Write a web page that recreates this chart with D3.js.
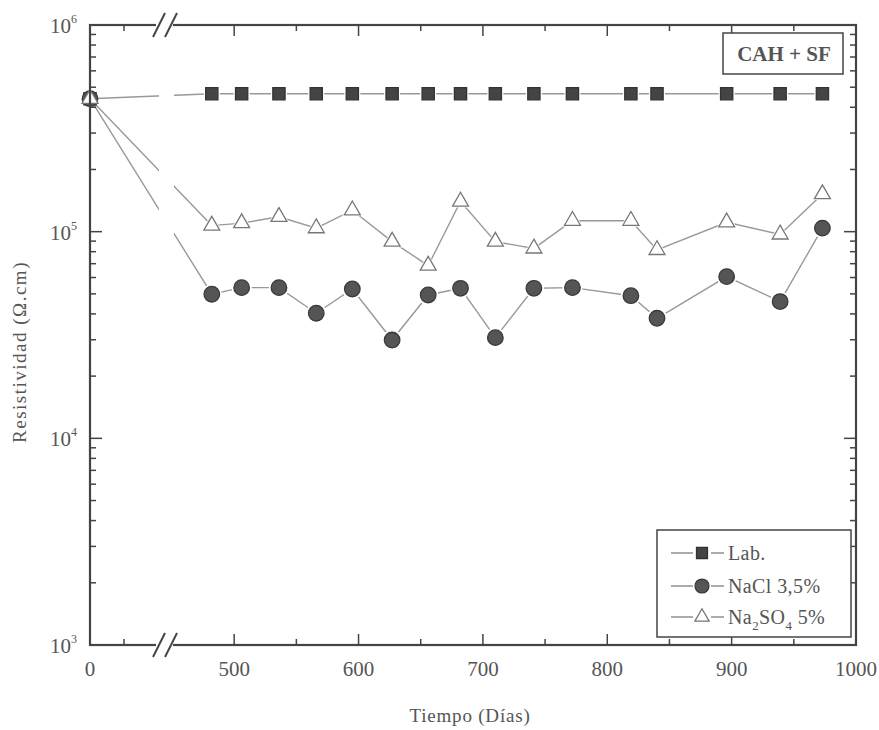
<!DOCTYPE html>
<meta charset="utf-8">
<head>
<style>
body { margin: 0; background: #fff; }
text { font-family: 'Liberation Serif', 'DejaVu Serif', serif; fill: #555; }
</style>
<script src="https://d3js.org/d3.v7.min.js"></script>
</head>
<body>
<svg id="chart"></svg>
<script>

// days and resistivity values (Ohm.cm)
var dias   = [0, 482, 506, 536, 566, 595, 627, 656, 682, 710, 741, 772, 819, 840, 896, 939, 973]
var lab    = [4.4e5, 4.65e5, 4.65e5, 4.65e5, 4.65e5, 4.65e5, 4.65e5, 4.65e5, 4.65e5, 4.65e5, 4.65e5, 4.65e5, 4.65e5, 4.65e5, 4.65e5, 4.65e5, 4.65e5]
var nacl   = [4.4e5, 4.98e4, 5.36e4, 5.36e4, 4.03e4, 5.28e4, 2.99e4, 4.94e4, 5.32e4, 3.07e4, 5.32e4, 5.36e4, 4.90e4, 3.81e4, 6.06e4, 4.59e4, 1.04e5]
var na2so4 = [4.4e5, 1.07e5, 1.10e5, 1.18e5, 1.04e5, 1.27e5, 8.95e4, 6.85e4, 1.40e5, 8.95e4, 8.3e4, 1.13e5, 1.13e5, 8.16e4, 1.11e5, 9.7e4, 1.52e5]

var xMajor = [0, 500, 600, 700, 800, 900, 1000]
var xMinor = [25, 550, 650, 750, 850, 950]
var yMajor = [1e3, 1e4, 1e5, 1e6]
var yExp   = ['3', '4', '5', '6']

var width = 879, height = 730
var pL = 90, pR = 856, pT = 25, pB = 645
var grey = '#444'

var svg = d3.select('#chart')
  .attr('width', width)
  .attr('height', height)

// broken x axis: 0-50 then 450-1000
var x = d3.scaleLinear()
  .domain([0, 50, 450, 1000])
  .range([pL, 158, 172, pR])

var y = d3.scaleLog()
  .domain([1e3, 1e6])
  .range([pB, pT])

// minor log ticks
var yMinor = []
yMajor.slice(0, 3).forEach(function (d) {
  for (var k = 2; k <= 9; k++) yMinor.push(d * k)
})

// clip the data lines across the break
svg.append('defs').append('clipPath').attr('id', 'brk')
  .selectAll('rect')
  .data([[pL - 10, 159], [174, pR + 10]])
  .enter().append('rect')
  .attr('x', function (d) { return d[0] })
  .attr('width', function (d) { return d[1] - d[0] })
  .attr('y', pT)
  .attr('height', pB - pT)

var series = [
  {name: 'lab', values: lab, symbol: d3.symbolSquare, size: 150, fill: '#444', stroke: '#333'},
  {name: 'nacl', values: nacl, symbol: d3.symbolCircle, size: 190, fill: '#555', stroke: '#3a3a3a'},
  {name: 'na2so4', values: na2so4, symbol: d3.symbolTriangle, size: 110, fill: '#fff', stroke: '#777'}
]

var line = d3.line()
  .x(function (d) { return x(d[0]) })
  .y(function (d) { return y(d[1]) })

series.forEach(function (s) {
  var pts = dias.map(function (d, i) { return [d, s.values[i]] })
  svg.append('path')
    .attr('d', line(pts))
    .attr('clip-path', 'url(#brk)')
    .attr('fill', 'none')
    .attr('stroke', '#999')
    .attr('stroke-width', 1.4)
})

series.forEach(function (s) {
  var pts = dias.map(function (d, i) { return [d, s.values[i]] })
  var g = svg.append('g')
  // white halo so the line stops short of each marker
  g.selectAll('.halo')
    .data(pts.slice(1))
    .enter().append('path')
    .attr('transform', function (d) { return 'translate(' + x(d[0]) + ',' + y(d[1]) + ')' })
    .attr('d', d3.symbol().type(s.symbol).size(s.size * 1.7))
    .attr('fill', '#fff')
  g.selectAll('.mk')
    .data(pts)
    .enter().append('path')
    .attr('transform', function (d) { return 'translate(' + x(d[0]) + ',' + y(d[1]) + ')' })
    .attr('d', d3.symbol().type(s.symbol).size(s.size))
    .attr('fill', s.fill)
    .attr('stroke', s.stroke)
    .attr('stroke-width', 1.3)
})

// frame
svg.append('rect')
  .attr('x', pL).attr('y', pT)
  .attr('width', pR - pL).attr('height', pB - pT)
  .attr('fill', 'none').attr('stroke', grey).attr('stroke-width', 2.2)

// x ticks, bottom and top, pointing in
function xTicks(vals, len) {
  vals.forEach(function (d) {
    svg.append('line').attr('x1', x(d)).attr('x2', x(d))
      .attr('y1', pB).attr('y2', pB - len)
      .attr('stroke', grey).attr('stroke-width', 1.5)
    svg.append('line').attr('x1', x(d)).attr('x2', x(d))
      .attr('y1', pT).attr('y2', pT + len)
      .attr('stroke', grey).attr('stroke-width', 1.5)
  })
}
xTicks(xMajor.slice(1, 6), 11)
xTicks(xMinor, 6)

function yTicks(vals, len) {
  vals.forEach(function (d) {
    svg.append('line').attr('x1', pL).attr('x2', pL + len)
      .attr('y1', y(d)).attr('y2', y(d))
      .attr('stroke', grey).attr('stroke-width', 1.5)
    svg.append('line').attr('x1', pR).attr('x2', pR - len)
      .attr('y1', y(d)).attr('y2', y(d))
      .attr('stroke', grey).attr('stroke-width', 1.5)
  })
}
yTicks(yMajor.slice(1, 3), 12)
yTicks(yMinor, 6)

// break marks on both x axes
;[pB, pT].forEach(function (yy) {
  svg.append('rect').attr('x', 156).attr('y', yy - 3).attr('width', 17).attr('height', 6).attr('fill', '#fff')
  ;[0, 12].forEach(function (dx) {
    svg.append('line')
      .attr('x1', 153 + dx).attr('y1', yy + 12)
      .attr('x2', 165 + dx).attr('y2', yy - 12)
      .attr('stroke', grey).attr('stroke-width', 2)
  })
})

// x tick labels
svg.selectAll('.xl')
  .data(xMajor)
  .enter().append('text')
  .attr('x', function (d) { return x(d) })
  .attr('y', 676)
  .attr('text-anchor', 'middle')
  .style('font-size', '21px')
  .text(function (d) { return d })

// y tick labels as 10 with superscript
yMajor.forEach(function (d, i) {
  var t = svg.append('text')
    .attr('x', 77)
    .attr('y', y(d) + 8)
    .attr('text-anchor', 'end')
    .style('font-size', '21px')
  t.append('tspan').text('10')
  t.append('tspan').attr('dy', -10).style('font-size', '12px').text(yExp[i])
})

// axis titles
svg.append('text')
  .attr('x', 470).attr('y', 722)
  .attr('text-anchor', 'middle')
  .style('font-size', '19px')
  .style('letter-spacing', '0.8px')
  .text('Tiempo (Días)')

svg.append('text')
  .attr('transform', 'translate(26,352) rotate(-90)')
  .attr('text-anchor', 'middle')
  .style('font-size', '19px')
  .style('letter-spacing', '1.5px')
  .text('Resistividad (Ω.cm)')

// CAH + SF label
svg.append('rect')
  .attr('x', 723).attr('y', 33).attr('width', 120).attr('height', 41)
  .attr('fill', '#fff').attr('stroke', grey).attr('stroke-width', 1.5)
svg.append('text')
  .attr('x', 784).attr('y', 61)
  .attr('text-anchor', 'middle')
  .style('font-size', '21px').style('font-weight', 'bold')
  .text('CAH + SF')

// legend
var legend = svg.append('g')
legend.append('rect')
  .attr('x', 657).attr('y', 530).attr('width', 194).attr('height', 107)
  .attr('fill', '#fff').attr('stroke', grey).attr('stroke-width', 1.5)

var legendY = [553, 586, 617]
series.forEach(function (s, i) {
  var ly = legendY[i]
  legend.append('line').attr('x1', 671).attr('x2', 693).attr('y1', ly).attr('y2', ly)
    .attr('stroke', '#888').attr('stroke-width', 1.4)
  legend.append('line').attr('x1', 711).attr('x2', 724).attr('y1', ly).attr('y2', ly)
    .attr('stroke', '#888').attr('stroke-width', 1.4)
  legend.append('path')
    .attr('transform', 'translate(702,' + ly + ')')
    .attr('d', d3.symbol().type(s.symbol).size(s.size * 0.8))
    .attr('fill', s.fill).attr('stroke', s.stroke).attr('stroke-width', 1.3)
})

function legendText(i) {
  return legend.append('text').attr('x', 728).attr('y', legendY[i] + 7)
    .style('font-size', '20px').style('letter-spacing', '0.4px')
}
legendText(0).text('Lab.')
legendText(1).text('NaCl 3,5%')
var t3 = legendText(2)
t3.append('tspan').text('Na')
t3.append('tspan').attr('dy', 6).style('font-size', '13px').text('2')
t3.append('tspan').attr('dy', -6).text('SO')
t3.append('tspan').attr('dy', 6).style('font-size', '13px').text('4')
t3.append('tspan').attr('dy', -6).text(' 5%')

</script>
</body>
</html>
